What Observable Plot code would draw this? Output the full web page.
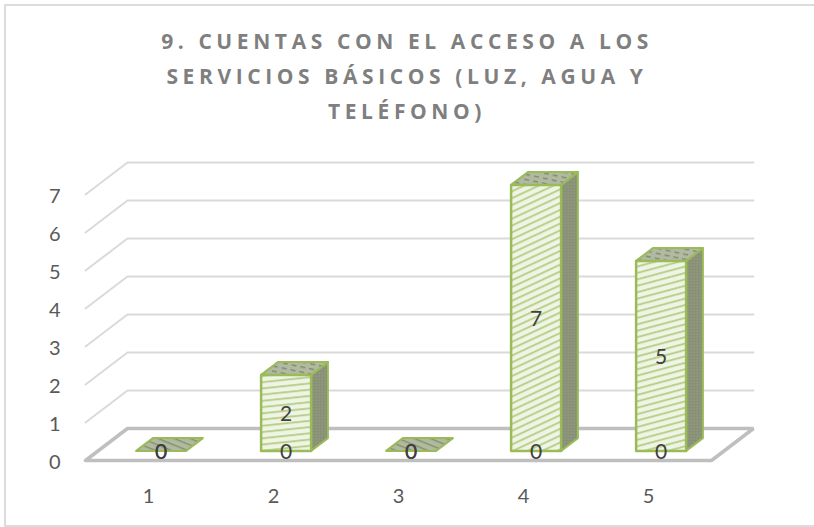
<!DOCTYPE html>
<html><head><meta charset="utf-8">
<script src="https://cdn.jsdelivr.net/npm/d3@7"></script>
<script src="https://cdn.jsdelivr.net/npm/@observablehq/plot@0.6"></script>
<style>
html,body{margin:0;background:#fff;overflow:hidden}
#wrap{position:relative;width:814px;height:527px;overflow:hidden}
#frame{position:absolute;left:4px;top:4px;width:830px;height:519px;border:2px solid #dcdcdc;box-sizing:content-box}
#title{position:relative;height:132px;box-sizing:border-box;padding-top:24px;text-align:center;font:700 21px/35px "Open Sans",sans-serif;letter-spacing:4.6px;color:#7f7f7f}
#chart{position:relative}
svg{display:block;background:transparent!important}
</style></head><body>
<div id="wrap"><div id="frame"></div>
<div id="title">9. CUENTAS CON EL ACCESO A LOS<br>SERVICIOS BÁSICOS (LUZ, AGUA Y<br>TELÉFONO)</div>
<div id="chart"></div></div>
<script>
const categories = [1, 2, 3, 4, 5];
const seriesA = [0, 2, 0, 7, 5];
const seriesB = [0, 0, 0, 0, 0];
const valueTicks = [0, 1, 2, 3, 4, 5, 6, 7];

// oblique projection, in data units
const depthX = 0.336, depthY = 0.842;
const floorLeft = 0.496, floorRight = 5.504;
const barHalf = 0.2, barFront = 0.3, barBack = 0.7;
const px = (c, d) => c + d * depthX;
const py = (v, d) => v + d * depthY;
const P = (id, c, v, d) => ({id, x: px(c, d), y: py(v, d)});

const walls = valueTicks.slice(1).flatMap(v => [
  P("w" + v, floorLeft, v, 0), P("w" + v, floorLeft, v, 1), P("w" + v, floorRight, v, 1)
]);
const floor = [P("f", floorLeft, 0, 0), P("f", floorRight, 0, 0), P("f", floorRight, 0, 1), P("f", floorLeft, 0, 1), P("f", floorLeft, 0, 0)];

function face(kind, c, v) {
  const id = kind + c, l = c - barHalf, r = c + barHalf;
  const pts = kind === "front" ? [[l,v,barFront],[r,v,barFront],[r,0,barFront],[l,0,barFront]]
    : kind === "side" ? [[r,v,barFront],[r,v,barBack],[r,0,barBack],[r,0,barFront]]
    : [[l,v,barFront],[l,v,barBack],[r,v,barBack],[r,v,barFront]];
  return [...pts, pts[0]].map(p => P(id, ...p));
}
const bars = categories.map((c, i) => ({c, v: seriesA[i]}));
const tall = bars.filter(b => b.v > 0);

const angle = {2: -6, 4: -25, 5: -15};
const defs = () => {
  const s = d3.create("svg:g");
  const d = s.append("defs");
  tall.forEach(({c}) => {
    const p = d.append("pattern").attr("id", "fp" + c).attr("patternUnits", "userSpaceOnUse")
      .attr("width", 7).attr("height", 6.2).attr("patternTransform", `rotate(${angle[c]})`);
    p.append("rect").attr("width", 7).attr("height", 6.2).attr("fill", "#eff5e5");
    p.append("rect").attr("y", 2).attr("width", 7).attr("height", 1.8).attr("fill", "#b4cc84");
  });
  const t = d.append("pattern").attr("id", "tp").attr("patternUnits", "userSpaceOnUse")
    .attr("width", 9).attr("height", 5).attr("patternTransform", "rotate(12)");
  t.append("rect").attr("width", 9).attr("height", 5).attr("fill", "#b2b9a3");
  t.append("rect").attr("y", 1).attr("width", 5).attr("height", 1.4).attr("fill", "#7f8a68");
  const z = d.append("pattern").attr("id", "zp").attr("patternUnits", "userSpaceOnUse")
    .attr("width", 8).attr("height", 6).attr("patternTransform", "rotate(22)");
  z.append("rect").attr("width", 8).attr("height", 6).attr("fill", "#b2b9a3");
  z.append("rect").attr("y", 2).attr("width", 8).attr("height", 1.4).attr("fill", "#84935f");
  const r = d.append("pattern").attr("id", "sp").attr("patternUnits", "userSpaceOnUse")
    .attr("width", 3).attr("height", 3);
  r.append("rect").attr("width", 3).attr("height", 3).attr("fill", "#868f74");
  r.append("rect").attr("width", 1.2).attr("height", 1.2).attr("fill", "#a2aa92");
  return s.node();
};

const textStyle = {fontFamily: "Lato,sans-serif", fontSize: 21, fill: "#404040", dy: 1};
const chart = Plot.plot({
  width: 814, height: 395,
  marginTop: 0, marginLeft: 63, marginRight: 0, marginBottom: 40,
  style: {background: "transparent", fontFamily: "Lato,sans-serif", overflow: "visible"},
  x: {type: "linear", domain: [1, 5], range: [148, 648]},
  y: {type: "linear", domain: [0, 7], range: [328, 62]},
  marks: [
    defs,
    Plot.line(walls, {x: "x", y: "y", z: "id", stroke: "#dadada", strokeWidth: 2, curve: "linear"}),
    Plot.line(floor, {x: "x", y: "y", stroke: "#bfbfbf", strokeWidth: 3.5, strokeLinejoin: "miter"}),
    ...tall.map(b => Plot.line(face("side", b.c, b.v), {x: "x", y: "y", fill: "url(#sp)", stroke: "#9bbb59", strokeWidth: 2})),
    ...bars.map(b => Plot.line(face("top", b.c, b.v), {x: "x", y: "y", fill: b.v > 0 ? "url(#tp)" : "url(#zp)", stroke: "#9bbb59", strokeWidth: 2})),
    ...tall.map(b => Plot.line(face("front", b.c, b.v), {x: "x", y: "y", fill: `url(#fp${b.c})`, stroke: "#9bbb59", strokeWidth: 2.5})),
    Plot.text(categories, {x: (c) => px(c, barFront), y: (c, i) => py(seriesB[i], barFront), text: (c, i) => String(seriesB[i]), ...textStyle}),
    Plot.text(categories, {x: (c) => px(c, barFront), y: (c, i) => py(seriesA[i] / 2, barFront), text: (c, i) => String(seriesA[i]), ...textStyle}),
    Plot.axisX(categories, {anchor: "bottom", tickSize: 0, tickPadding: 1, fontSize: 20, label: null, tickFormat: d => String(d), fill: "#595959"}),
    Plot.axisY(valueTicks, {anchor: "left", tickSize: 0, tickPadding: 3, dy: 2, fontSize: 20, label: null, tickFormat: d => String(d), fill: "#595959"})
  ]
});
document.getElementById("chart").appendChild(chart);
</script></body></html>
